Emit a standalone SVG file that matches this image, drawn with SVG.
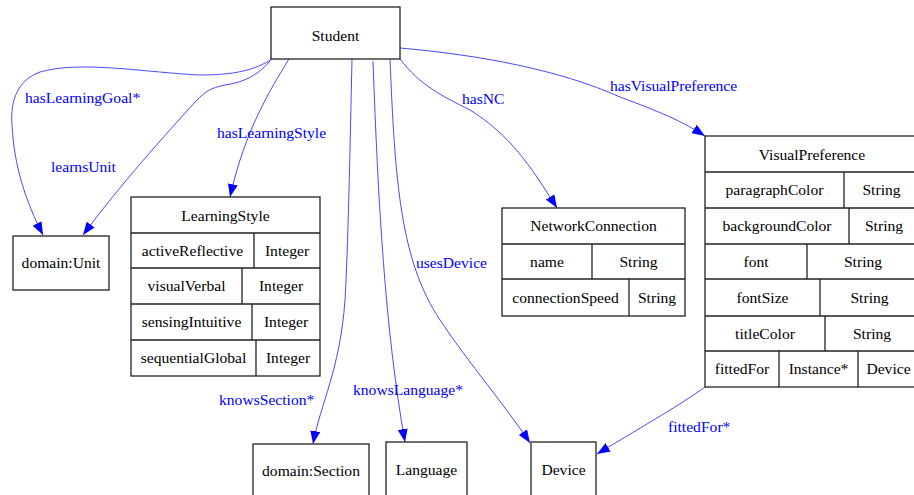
<svg xmlns="http://www.w3.org/2000/svg" width="914" height="495" viewBox="0 0 914 495">
<defs>
<marker id="ah" markerUnits="userSpaceOnUse" markerWidth="13" markerHeight="10" viewBox="0 0 13 10" refX="13" refY="5" orient="auto">
<path d="M0,0 L13,5 L0,10 Z" fill="#0000ff"/>
</marker>
</defs>
<style>
.box{fill:#fff;stroke:#222;stroke-width:1.3}
.ln{stroke:#222;stroke-width:1.3;fill:none}
text{font-family:"Liberation Serif","Times New Roman",serif;font-size:15.6px}
.n{fill:#000;text-anchor:middle}
.lbl{fill:#0000ff}
.e{fill:none;stroke:#4a4aff;stroke-width:1;marker-end:url(#ah)}
</style>
<rect width="914" height="495" fill="#fff"/>
<g id="connectors">
<path class="e" d="M272,59 C255,70 235,75 200,75 C150,73 80,60 40,72 C18,80 10,100 12,125 C14,165 25,200 43,235"/>
<text class="lbl" x="25" y="103">hasLearningGoal*</text>
<path class="e" d="M270,61 C258,75 245,82 225,85 C210,88 205,92 197,100 C165,135 120,185 83,235"/>
<text class="lbl" x="51" y="172">learnsUnit</text>
<path class="e" d="M289,59 C270,90 245,130 230,197"/>
<text class="lbl" x="217" y="138">hasLearningStyle</text>
<path class="e" d="M352,59 C350,150 348,250 345,300 C340,370 320,405 313,444"/>
<text class="lbl" x="219" y="405">knowsSection*</text>
<path class="e" d="M373,61 C378,200 385,330 405,442"/>
<text class="lbl" x="353" y="395">knowsLanguage*</text>
<path class="e" d="M390,59 C395,180 400,260 440,320 C470,365 505,405 530,443"/>
<text class="lbl" x="416" y="268">usesDevice</text>
<path class="e" d="M400,59 C420,85 440,95 470,110 C510,135 530,165 557,208"/>
<text class="lbl" x="462" y="104">hasNC</text>
<path class="e" d="M400,48 C480,55 560,70 620,97 C660,112 680,120 705,136"/>
<text class="lbl" x="610" y="91">hasVisualPreference</text>
<path class="e" d="M705,387 C680,405 650,422 597,454"/>
<text class="lbl" x="668" y="432">fittedFor*</text>
</g>
<g id="Student">
<rect class="box" x="271" y="7" width="129" height="52"/>
<text class="n" x="335.5" y="41">Student</text>
</g>
<g id="domainUnit">
<rect class="box" x="13" y="236" width="96" height="54"/>
<text class="n" x="61" y="268">domain:Unit</text>
</g>
<g id="LearningStyle">
<rect class="box" x="131" y="197" width="189" height="179"/>
<path class="ln" d="M131,233H320M131,268H320M131,304H320M131,340H320M254,233V268M242,268V304M252,304V340M256,340V376"/>
<text class="n" x="225.5" y="221">LearningStyle</text>
<text class="n" x="192.5" y="256">activeReflective</text><text class="n" x="287" y="256">Integer</text>
<text class="n" x="186.5" y="291">visualVerbal</text><text class="n" x="281" y="291">Integer</text>
<text class="n" x="191.5" y="327">sensingIntuitive</text><text class="n" x="286" y="327">Integer</text>
<text class="n" x="193.5" y="363">sequentialGlobal</text><text class="n" x="288" y="363">Integer</text>
</g>
<g id="NetworkConnection">
<rect class="box" x="502" y="208" width="183" height="108"/>
<path class="ln" d="M502,244H685M502,279H685M592,244V279M629,279V316"/>
<text class="n" x="593.5" y="231">NetworkConnection</text>
<text class="n" x="547" y="267">name</text><text class="n" x="638.5" y="267">String</text>
<text class="n" x="565.5" y="303">connectionSpeed</text><text class="n" x="657" y="303">String</text>
</g>
<g id="VisualPreference">
<rect class="box" x="705" y="136" width="214" height="251"/>
<path class="ln" d="M705,172H919M705,208H919M705,244H919M705,279H919M705,316H919M705,351H919M844,172V208M849,208V244M807,244V279M820,279V316M825,316V351M779,351V387M858,351V387"/>
<text class="n" x="812" y="160">VisualPreference</text>
<text class="n" x="774.5" y="195">paragraphColor</text><text class="n" x="881.5" y="195">String</text>
<text class="n" x="777" y="231">backgroundColor</text><text class="n" x="884" y="231">String</text>
<text class="n" x="756" y="267">font</text><text class="n" x="863" y="267">String</text>
<text class="n" x="762.5" y="303">fontSize</text><text class="n" x="869.5" y="303">String</text>
<text class="n" x="765" y="339">titleColor</text><text class="n" x="872" y="339">String</text>
<text class="n" x="742" y="374">fittedFor</text><text class="n" x="818.5" y="374">Instance*</text><text class="n" x="888.5" y="374">Device</text>
</g>
<g id="domainSection">
<rect class="box" x="253" y="444" width="116" height="60"/>
<text class="n" x="311" y="476">domain:Section</text>
</g>
<g id="Language">
<rect class="box" x="386" y="442" width="81" height="62"/>
<text class="n" x="426.5" y="475">Language</text>
</g>
<g id="Device">
<rect class="box" x="531" y="442" width="65" height="62"/>
<text class="n" x="563.5" y="475">Device</text>
</g>
</svg>
